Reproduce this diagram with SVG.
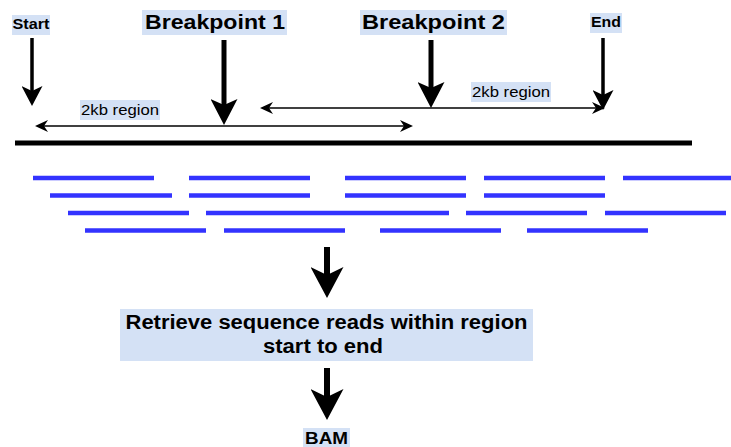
<svg xmlns="http://www.w3.org/2000/svg" width="731" height="447" viewBox="0 0 731 447">
<style>
.bg{fill:#d4e1f5}
.t{font-family:"Liberation Sans",Arial,Helvetica,sans-serif;fill:#000;text-anchor:middle}
.b{font-weight:bold}
.v{stroke:#000;fill:none}
.h{stroke:#000;stroke-width:1.6;fill:none}
.read{stroke:#3333ff;stroke-width:4.5;fill:none}
</style>
<defs>
<marker id="ah-sm" markerUnits="userSpaceOnUse" viewBox="0 0 13 12" markerWidth="13" markerHeight="12" refX="4" refY="6" orient="auto-start-reverse"><path d="M0,0 L13,6 L0,12 L4,6 Z" fill="#000"/></marker>
<marker id="ah-md" markerUnits="userSpaceOnUse" viewBox="0 0 20 21" markerWidth="20" markerHeight="21" refX="5" refY="10.5" orient="auto"><path d="M0,0 L20,10.5 L0,21 L5,10.5 Z" fill="#000"/></marker>
<marker id="ah-lg" markerUnits="userSpaceOnUse" viewBox="0 0 26 27" markerWidth="26" markerHeight="27" refX="6" refY="13.5" orient="auto"><path d="M0,0 L26,13.5 L0,27 L6,13.5 Z" fill="#000"/></marker>
<marker id="ah-xl" markerUnits="userSpaceOnUse" viewBox="0 0 31 33" markerWidth="31" markerHeight="33" refX="8" refY="16.5" orient="auto"><path d="M0,0 L31,16.5 L0,33 L8,16.5 Z" fill="#000"/></marker>
</defs>
<rect width="731" height="447" fill="#fff"/>

<g id="start">
<rect class="bg" x="12" y="15" width="38" height="20"/>
<text class="t b" x="31" y="29" font-size="14" textLength="37" lengthAdjust="spacingAndGlyphs">Start</text>
</g>
<g id="breakpoint1">
<rect class="bg" x="142" y="10" width="145" height="25"/>
<text class="t b" x="215" y="29" font-size="21" textLength="140" lengthAdjust="spacingAndGlyphs">Breakpoint 1</text>
</g>
<g id="breakpoint2">
<rect class="bg" x="360" y="10" width="147" height="25"/>
<text class="t b" x="433.5" y="29" font-size="21" textLength="143" lengthAdjust="spacingAndGlyphs">Breakpoint 2</text>
</g>
<g id="end">
<rect class="bg" x="590" y="13" width="32" height="20"/>
<text class="t b" x="606" y="27" font-size="14" textLength="30" lengthAdjust="spacingAndGlyphs">End</text>
</g>
<g id="region1">
<rect class="bg" x="80" y="100" width="80" height="20"/>
<text class="t" x="120" y="115" font-size="15" textLength="78" lengthAdjust="spacingAndGlyphs">2kb region</text>
</g>
<g id="region2">
<rect class="bg" x="471" y="82" width="80" height="20"/>
<text class="t" x="511" y="97" font-size="15" textLength="78" lengthAdjust="spacingAndGlyphs">2kb region</text>
</g>
<g id="chromosome">
<line x1="15" y1="143" x2="692" y2="143" stroke="#000" stroke-width="5"/>
</g>
<g id="reads">
<line class="read" x1="33" y1="178" x2="154" y2="178"/>
<line class="read" x1="189" y1="178" x2="310" y2="178"/>
<line class="read" x1="345" y1="178" x2="466" y2="178"/>
<line class="read" x1="484" y1="178" x2="605" y2="178"/>
<line class="read" x1="623" y1="178" x2="731" y2="178"/>
<line class="read" x1="50" y1="195.5" x2="172" y2="195.5"/>
<line class="read" x1="189" y1="195.5" x2="310" y2="195.5"/>
<line class="read" x1="345" y1="195.5" x2="466" y2="195.5"/>
<line class="read" x1="484" y1="195.5" x2="605" y2="195.5"/>
<line class="read" x1="68" y1="213" x2="189" y2="213"/>
<line class="read" x1="206" y1="213" x2="329" y2="213"/>
<line class="read" x1="329" y1="213" x2="449" y2="213"/>
<line class="read" x1="466" y1="213" x2="587" y2="213"/>
<line class="read" x1="605" y1="213" x2="726" y2="213"/>
<line class="read" x1="85" y1="230.5" x2="206" y2="230.5"/>
<line class="read" x1="224" y1="230.5" x2="345" y2="230.5"/>
<line class="read" x1="380" y1="230.5" x2="501" y2="230.5"/>
<line class="read" x1="527" y1="230.5" x2="648" y2="230.5"/>
</g>
<g id="retrieve">
<rect class="bg" x="120" y="309" width="413" height="52"/>
<text class="t b" x="326.5" y="329" font-size="20" textLength="402" lengthAdjust="spacingAndGlyphs">Retrieve sequence reads within region</text>
<text class="t b" x="323" y="353" font-size="20" textLength="120" lengthAdjust="spacingAndGlyphs">start to end</text>
</g>
<g id="bam">
<rect class="bg" x="303" y="428" width="47" height="19"/>
<text class="t b" x="326.5" y="444" font-size="17" textLength="43" lengthAdjust="spacingAndGlyphs">BAM</text>
</g>

<g id="connectors">
<line class="v" x1="32" y1="38" x2="32" y2="91" stroke-width="3.5" marker-end="url(#ah-md)"/>
<line class="v" x1="603" y1="38" x2="603" y2="95" stroke-width="3.5" marker-end="url(#ah-md)"/>
<line class="v" x1="224" y1="40" x2="224" y2="105" stroke-width="5" marker-end="url(#ah-lg)"/>
<line class="v" x1="431" y1="40" x2="431" y2="88" stroke-width="5" marker-end="url(#ah-lg)"/>
<line class="h" x1="44" y1="126" x2="404" y2="126" marker-start="url(#ah-sm)" marker-end="url(#ah-sm)"/>
<line class="h" x1="269" y1="108" x2="596" y2="108" marker-start="url(#ah-sm)" marker-end="url(#ah-sm)"/>
<line class="v" x1="327" y1="247" x2="327" y2="275" stroke-width="6" marker-end="url(#ah-xl)"/>
<line class="v" x1="327" y1="368" x2="327" y2="397" stroke-width="6" marker-end="url(#ah-xl)"/>
</g>
</svg>
